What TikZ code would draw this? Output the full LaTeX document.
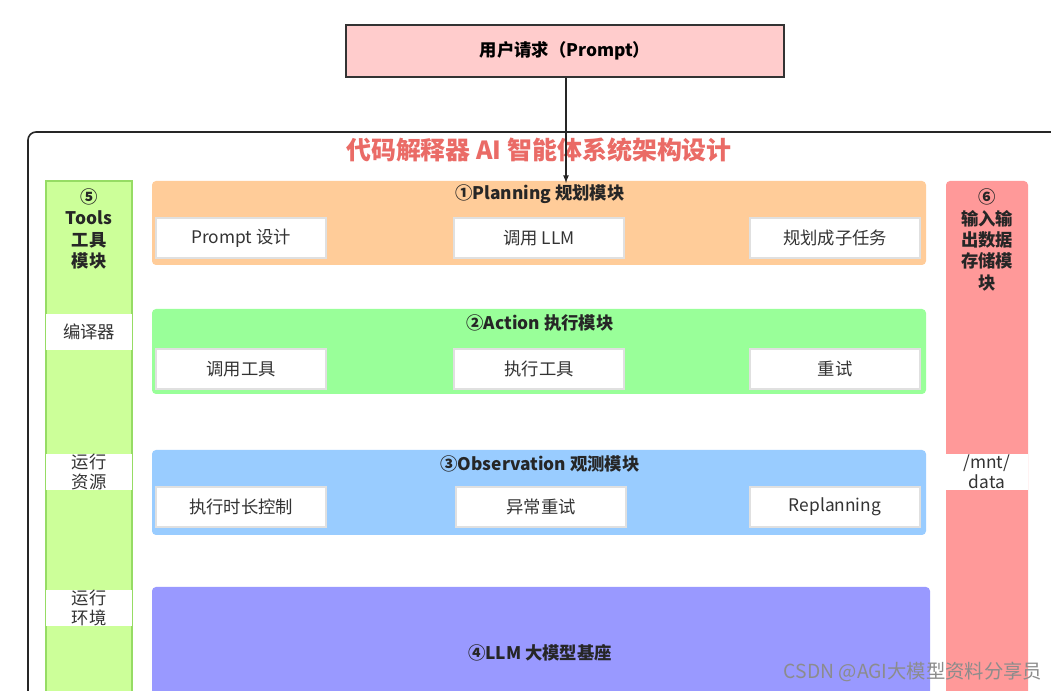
\documentclass[tikz,border=0pt]{standalone}
\usepackage{fontspec}
\setmainfont{Noto Sans CJK SC}
\definecolor{ttlc}{RGB}{234,107,102}
\definecolor{pinkc}{RGB}{255,204,204}
\definecolor{greenc}{RGB}{204,255,153}
\definecolor{greend}{RGB}{150,220,100}
\definecolor{redc}{RGB}{255,153,153}
\definecolor{orc}{RGB}{255,204,153}
\definecolor{grc}{RGB}{153,255,153}
\definecolor{blc}{RGB}{153,204,255}
\definecolor{puc}{RGB}{153,153,255}
\begin{document}
\begin{tikzpicture}[x=0.75pt,y=-0.75pt,
  lay/.style={rounded corners=3pt,draw=none},
  sub/.style={draw=black!12,line width=1pt,fill=white,minimum width=127.5pt,minimum height=30pt,font=\fontsize{13}{15}\selectfont,text=black!80},
  side/.style={fill=white,draw=none,minimum width=64.5pt,minimum height=27pt,font=\fontsize{13}{15}\selectfont,align=center,text=black!80,inner sep=0pt},
  ttl/.style={font=\bfseries\fontsize{13}{15}\selectfont,text=black!85}]
\useasboundingbox (0,0) rectangle (1051,691);
\fill[white] (0,0) rectangle (1051,691);
% outer frame
\draw[black!85,line width=1.2pt,rounded corners=6pt] (28,691+20) -- (28,132) -- (1051+20,132);
\node[font=\bfseries\fontsize{18.7}{22}\selectfont,text=ttlc] (title) at (539,150) {代码解释器 AI 智能体系统架构设计};
% prompt
\node[draw=black!80,line width=1.5pt,fill=pinkc,minimum width=328pt,minimum height=39pt,font=\bfseries\fontsize{13}{15}\selectfont] (prompt) at (565,51) {用户请求（Prompt）};
% left column
\fill[greenc] (46,181) rectangle (132,700);
\draw[greend,line width=1pt] (46,700) -- (46,181) -- (132,181) -- (132,700);
\node[align=center,font=\bfseries\fontsize{13}{16}\selectfont,text=black!85] (tools) at (89,229) {⑤\\Tools\\工具\\模块};
\node[side] (s1) at (89,332) {编译器};
\node[side] (s2) at (89,472) {运行\\资源};
\node[side] (s3) at (89,608) {运行\\环境};
% right column
\fill[redc,rounded corners=3pt] (946,181) rectangle (1028,720);
\node[align=center,font=\bfseries\fontsize{13}{16}\selectfont,text=black!85] (store) at (987,240) {⑥\\输入输\\出数据\\存储模\\块};
\node[side,minimum width=61.5pt] (mnt) at (987,472) {/mnt/\\data};
% planning
\fill[lay,orc] (152,181) rectangle (926,265);
\node[ttl] (pt) at (540,194) {①Planning 规划模块};
\node[sub] (p1) at (241,238) {Prompt 设计};
\node[sub] (p2) at (539,238) {调用 LLM};
\node[sub] (p3) at (835,238) {规划成子任务};
% action
\fill[lay,grc] (152,309) rectangle (926,394);
\node[ttl] (at) at (540,323) {②Action 执行模块};
\node[sub] (a1) at (241,369) {调用工具};
\node[sub] (a2) at (539,369) {执行工具};
\node[sub] (a3) at (835,369) {重试};
% observation
\fill[lay,blc] (152,450) rectangle (926,535);
\node[ttl] (ot) at (540,464) {③Observation 观测模块};
\node[sub] (o1) at (241,507) {执行时长控制};
\node[sub] (o2) at (541,507) {异常重试};
\node[sub] (o3) at (835,507) {Replanning};
% llm
\fill[lay,puc] (152,587) rectangle (930,720);
\node[ttl] (llm) at (540,653) {④LLM 大模型基座};
% arrow
\coordinate (tip) at (566,183);
\draw[black!85,line width=1pt,-latex] (prompt.south -| tip) -- (tip);
\node[anchor=east,font=\fontsize{14.5}{16}\selectfont,text=black!45] (wm) at (1047,672) {CSDN @AGI大模型资料分享员};
\end{tikzpicture}
\end{document}
